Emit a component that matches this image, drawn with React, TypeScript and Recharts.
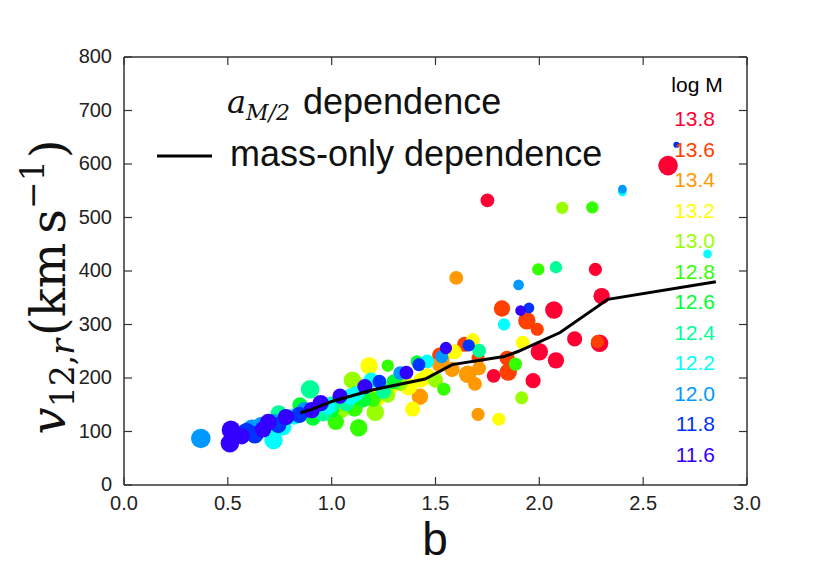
import { ScatterChart, Scatter, XAxis, YAxis, ZAxis } from "recharts"

document.body.style.margin = "0"

const SANS = "Liberation Sans, Arial, sans-serif"
const SERIF = "DejaVu Serif, serif"
const FRAME = "#333"
const TICK_LEN = 8

const xTicks = [0, 0.5, 1, 1.5, 2, 2.5, 3]
const yTicks = [0, 100, 200, 300, 400, 500, 600, 700, 800]

// log M bins, high to low
const massLabels = ["13.8", "13.6", "13.4", "13.2", "13.0", "12.8", "12.6", "12.4", "12.2", "12.0", "11.8", "11.6"]
const massColors = ["#ff0033", "#ff4000", "#ff9900", "#ffff00", "#99ff00", "#33ff00", "#00ff33", "#00ff99", "#00ffff", "#0099ff", "#0033ff", "#3300ff"]

// [b, v12, weight]
const m138 = [[1.75, 532, 5], [2.62, 597, 10], [2.27, 403, 4.5], [2.3, 353, 7], [2.07, 327, 8], [2.17, 273, 6], [2.29, 265, 8], [2.0, 249, 8], [2.08, 233, 7], [1.97, 195, 6], [1.78, 204, 5]]
const m136 = [[1.82, 330, 7], [1.94, 307, 8], [1.99, 291, 4.5], [2.28, 268, 4.5], [1.845, 237, 6], [1.85, 211, 8], [1.64, 263, 6], [1.705, 237, 4.5], [1.52, 243, 6]]
const m134 = [[1.6, 387, 5], [1.705, 132, 4.5], [1.71, 218, 5], [1.655, 207, 8], [1.69, 189, 5], [1.58, 216, 6], [1.52, 225, 6], [1.425, 165, 7], [1.535, 234, 5]]
const m132 = [[1.805, 123, 4.5], [1.92, 266, 5], [1.68, 271, 5], [1.59, 249, 6], [1.46, 203, 7], [1.39, 142, 6], [1.37, 184, 8], [1.18, 223, 8], [1.22, 162, 7], [1.43, 196, 6], [1.28, 180, 6]]
const m130 = [[2.11, 518, 4], [1.915, 163, 4.5], [1.5, 196, 6], [1.27, 168, 6], [1.21, 136, 8], [1.1, 196, 8], [1.05, 140, 6], [1.33, 190, 6]]
const m128 = [[2.255, 519, 4], [1.995, 403, 4], [1.885, 226, 4.5], [1.54, 179, 4.5], [1.27, 223, 4], [1.13, 107, 8], [1.02, 118, 7], [1.11, 143, 7], [1.2, 160, 6]]
const m126 = [[1.41, 231, 4], [1.3, 193, 6], [0.91, 125, 6], [0.847, 150, 6], [1.0, 140, 6], [1.15, 160, 7]]
const m124 = [[2.08, 407, 4], [1.71, 251, 5], [0.896, 179, 9], [0.96, 134, 7], [0.745, 134, 7], [1.07, 153, 7], [1.0, 150, 7], [1.25, 175, 6]]
const m122 = [[2.81, 432, 2], [2.4, 548, 2], [1.83, 300, 4], [1.46, 231, 5], [1.19, 196, 6], [1.12, 171, 6], [0.767, 108, 7], [0.72, 84, 9], [0.98, 147, 7], [0.82, 128, 7], [1.09, 165, 7]]
const m120 = [[2.4, 553, 2], [1.9, 374, 3], [1.53, 240, 4.5], [1.33, 209, 5], [0.615, 106, 8], [0.37, 87, 10], [0.87, 140, 7], [0.72, 117, 8], [0.66, 112, 7]]
const m118 = [[2.66, 636, 1], [1.95, 331, 3], [1.66, 261, 4], [1.42, 225, 4.5], [1.23, 193, 5], [0.743, 112, 7], [0.63, 94, 8], [0.844, 131, 7], [0.59, 100, 8]]
const m116 = [[1.91, 326, 3], [1.55, 256, 4], [1.36, 210, 5], [1.16, 184, 6], [1.04, 166, 6], [0.947, 153, 7], [0.904, 140, 7], [0.78, 127, 7], [0.695, 118, 7], [0.67, 104, 7], [0.567, 91, 7], [0.515, 103, 9], [0.51, 78, 9]]

const massPoints = [m138, m136, m134, m132, m130, m128, m126, m124, m122, m120, m118, m116]

// mass-only dependence curve
const lineB = [0.85, 0.9, 1.0, 1.2, 1.45, 1.58, 1.83, 1.9, 2.1, 2.33, 2.85]
const lineV = [135, 141, 156, 178, 198, 225, 240, 250, 285, 347, 380]

const levels = massLabels.map((label, i) => ({
  label,
  color: massColors[i],
  data: massPoints[i].map(([b, v, w]) => ({ b, v, w })),
}))

const lineData = lineB.map((b, i) => ({ b, v: lineV[i] }))

const frameStyle = { stroke: FRAME, strokeWidth: 1.5 }
const labelProps = { fill: "#222", fontSize: 20, fontFamily: SANS }

// ticks point into the plot, matplotlib style
const BottomTick = ({ x, y, payload }: any) => (
  <g>
    <line x1={x} x2={x} y1={y - 10} y2={y - 10 - TICK_LEN} stroke={FRAME} strokeWidth={1.2} />
    <text x={x} y={y} dy="0.75em" textAnchor="middle" {...labelProps}>{payload.value.toFixed(1)}</text>
  </g>
)
const LeftTick = ({ x, y, payload }: any) => (
  <g>
    <line x1={x + 12} x2={x + 12 + TICK_LEN} y1={y} y2={y} stroke={FRAME} strokeWidth={1.2} />
    <text x={x} y={y} dy="0.3em" textAnchor="end" {...labelProps}>{payload.value}</text>
  </g>
)
const TopTick = ({ x, y }: any) => (
  <line x1={x} x2={x} y1={y} y2={y + TICK_LEN} stroke={FRAME} strokeWidth={1.2} />
)
const RightTick = ({ x, y }: any) => (
  <line x1={x} x2={x - TICK_LEN} y1={y} y2={y} stroke={FRAME} strokeWidth={1.2} />
)

const App = () => {
  return (
    <div style={{ position: "relative", width: 830, height: 571, background: "#fff" }}>
      <ScatterChart width={830} height={571} margin={{ top: 37, right: 63, bottom: 56, left: 84 }}>
        <XAxis type="number" dataKey="b" domain={[0, 3]} ticks={xTicks} interval={0} height={30}
          tickSize={0} tickMargin={10} tickLine={false} tick={BottomTick} axisLine={frameStyle} allowDataOverflow />
        <XAxis xAxisId="top" orientation="top" type="number" dataKey="b" domain={[0, 3]} ticks={xTicks} interval={0} height={20}
          tickSize={0} tickMargin={0} tickLine={false} tick={TopTick} axisLine={frameStyle} allowDataOverflow />
        <YAxis type="number" dataKey="v" domain={[0, 800]} ticks={yTicks} interval={0} width={40}
          tickSize={0} tickMargin={12} tickLine={false} tick={LeftTick} axisLine={frameStyle} allowDataOverflow />
        <YAxis yAxisId="right" orientation="right" type="number" dataKey="v" domain={[0, 800]} ticks={yTicks} interval={0} width={20}
          tickSize={0} tickMargin={0} tickLine={false} tick={RightTick} axisLine={frameStyle} allowDataOverflow />
        <ZAxis type="number" dataKey="w" domain={[0, 10]} range={[0, 300]} />
        {levels.map((lv) => (
          <Scatter key={lv.label} name={lv.label} data={lv.data} fill={lv.color} isAnimationActive={false} />
        ))}
        <Scatter name="mass-only dependence" data={lineData} xAxisId="top" yAxisId="right"
          line={{ stroke: "#000", strokeWidth: 3 }} shape={() => <g />} isAnimationActive={false} />
      </ScatterChart>

      <svg width={830} height={571} style={{ position: "absolute", left: 0, top: 0, pointerEvents: "none" }}>
        {/* axis titles */}
        <text x={435} y={555} textAnchor="middle" fontFamily={SANS} fontSize={46} fill="#111">b</text>
        <text transform="translate(65,287) rotate(-90)" textAnchor="middle" fontFamily={SERIF} fontSize={48} fill="#111">
          <tspan fontStyle="italic">v</tspan>
          <tspan fontSize={33} dy={9}>12,</tspan>
          <tspan fontSize={33} fontStyle="italic">r</tspan>
          <tspan dy={-9} dx={3}>(km</tspan>
          <tspan dx={9}>s</tspan>
          <tspan fontSize={33} dy={-21}>−1</tspan>
          <tspan dy={21} dx={2}>)</tspan>
        </text>

        {/* series legend */}
        <text x={227} y={113} fontFamily={SERIF} fontSize={32} fontStyle="italic" fill="#111">
          a<tspan fontSize={22} dy={7}>M/2</tspan>
        </text>
        <text x={303} y={114} fontFamily={SANS} fontSize={36} fill="#111">dependence</text>
        <line x1={157} x2={212} y1={156} y2={156} stroke="#000" strokeWidth={3} />
        <text x={230} y={166} fontFamily={SANS} fontSize={36} fill="#111">mass-only dependence</text>

        {/* mass colour key */}
        <text x={697} y={92} textAnchor="middle" fontFamily={SANS} fontSize={21} fill="#000">log M</text>
        {levels.map((lv, i) => (
          <text key={lv.label} x={715} y={126 + i * 30.5} textAnchor="end" fontFamily={SANS} fontSize={21} fill={lv.color}>
            {lv.label}
          </text>
        ))}
      </svg>
    </div>
  )
}

export default App
